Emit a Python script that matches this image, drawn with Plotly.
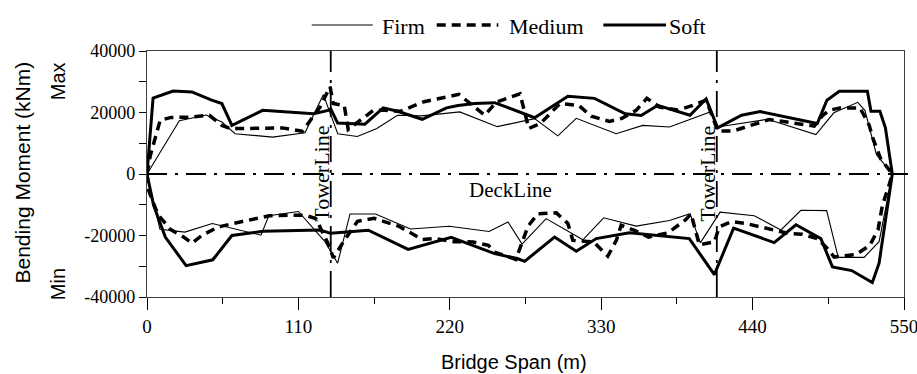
import plotly.graph_objects as go

# Bending moment envelopes along the bridge span (x in m, moment in kNm)
firm_max_x = [0, 23.5, 43, 54.4, 64, 91.3, 114.8, 128.1, 138.6, 152.8, 167, 182, 199.5, 227.2, 254.5,
              281.6, 298.5, 311.9, 340.9, 360.2, 379.6, 409.2, 414.6, 450.9, 486, 499, 516.4, 521.6, 530, 541.5]
firm_max_y = [0, 17300, 19200, 16900, 13100, 12000, 13400, 25800, 13100, 12200, 14800, 19100, 18900, 20200, 15400,
              18000, 12400, 18100, 13100, 15800, 15300, 20200, 15300, 17800, 12850, 19900, 23300, 20700, 6300, 0]
firm_min_x = [0, 9.4, 27.5, 47.4, 82.8, 88.5, 110, 129, 138.5, 147.5, 166, 191.5, 219.5, 248.5, 262.3, 272.5,
              290, 316.7, 331.8, 355.4, 379.6, 394.6, 402, 416.4, 441.2, 460.6, 475.1, 493.8, 502.2, 521, 531.9, 541.5]
firm_min_y = [0, -18000, -18900, -16100, -19900, -13600, -12200, -21800, -29000, -13000, -13000, -17900, -17000,
              -18700, -15600, -22800, -14500, -21400, -14250, -16950, -15100, -12900, -22400, -12400, -13550,
              -18200, -11800, -11900, -27100, -27100, -22000, 0]

medium_max_x = [0, 2.4, 9.6, 17.5, 31.4, 45.3, 54.4, 60.4, 70, 98.5, 113, 125.7, 133, 135.3, 143.3, 146.2, 155,
                164.4, 172.8, 184, 201.3, 226.6, 245.4, 253.8, 271, 277.4, 286, 300, 313.7, 322.8, 336, 345,
                355.4, 363.2, 372.3, 385.6, 396.5, 406.2, 411, 414.6, 426, 438.8, 452, 484.8, 491, 495.6,
                503.5, 518, 524.6, 527.5, 533, 541.5]
medium_max_y = [0, 6000, 17500, 18400, 18500, 19100, 15800, 14800, 14800, 15000, 13900, 21800, 28400, 22900,
                22300, 14500, 17500, 20700, 20700, 20400, 23500, 25900, 19100, 23400, 26100, 14800, 16500,
                22900, 22300, 18800, 17100, 18100, 20700, 24600, 21800, 20800, 22300, 24000, 18500, 14000,
                14000, 15800, 17700, 15600, 19100, 20700, 21500, 21500, 16000, 11500, 5000, 0]
medium_min_x = [0, 1.2, 7.8, 16.9, 26.6, 32.8, 40, 52, 67.7, 88.8, 103.9, 114.8, 122.7, 131.5, 135.4, 142.6,
                152.9, 165, 183, 200, 209, 223, 237, 248, 252.6, 268, 276.8, 284, 297.4, 305.8, 309.4, 324.5,
                334.8, 341, 344.5, 354.2, 364.4, 378.4, 391, 395.3, 401.3, 412.2, 415.8, 424.8, 435.2, 455,
                466.6, 476, 487.2, 494.4, 499.3, 515, 525.2, 531.2, 534.3, 539.1, 541.5]
medium_min_y = [0, -5300, -13100, -18000, -20500, -22500, -19900, -17200, -15600, -13600, -13400, -13400,
                -14500, -22600, -27300, -22100, -15400, -14400, -17000, -21300, -21000, -22000, -22100,
                -23200, -25400, -27800, -17000, -12900, -12650, -16100, -21600, -22100, -26700, -21600,
                -16700, -18300, -20500, -19150, -15000, -13000, -23000, -22100, -17200, -15500, -16100,
                -18300, -19400, -19600, -21000, -24300, -27000, -26200, -23200, -18000, -10200, -3700, 0]

soft_max_x = [0, 4.4, 19, 32.6, 47, 54.4, 61.7, 84, 121, 131.7, 133.5, 138.5, 158.3, 171.6, 182, 200, 217.6,
              226, 238, 252.6, 281.6, 305.8, 325.2, 347.5, 359, 371, 394.5, 406.2, 414.6, 432, 445.5, 487, 494,
              503, 523.4, 526, 532.5, 536.5, 541.5]
soft_max_y = [0, 24700, 27000, 26700, 24000, 22900, 15800, 20700, 19600, 20700, 21200, 16600, 16200, 21500,
              20400, 17800, 21500, 22300, 22900, 23200, 18300, 25300, 24600, 19600, 19000, 22300, 19100,
              24400, 15000, 19100, 20300, 16400, 24000, 26900, 26900, 20400, 20400, 15000, 0]
soft_min_x = [0, 4.8, 13.3, 28.4, 47.8, 61.7, 84.6, 125.7, 133.5, 160.8, 189.7, 221, 252.6, 269, 274.4, 296.1,
              311.9, 326.4, 350.5, 394, 412.2, 426.2, 455.7, 471.5, 489.6, 498, 512, 527, 531.9, 541.5]
soft_min_y = [0, -10200, -20500, -29800, -27900, -20000, -18600, -18200, -19300, -18300, -24500, -20600,
              -25900, -27500, -28400, -20500, -25100, -21000, -19100, -21000, -32700, -17600, -22300, -16500,
              -21000, -30200, -31400, -35300, -29000, 0]

tower_x = [133.5, 414]
x_tick_vals = [0, 110, 220, 330, 440, 550]
x_tick_text = ["0", "110", "220", "330", "440", "550"]
y_tick_vals = [-40000, -20000, 0, 20000, 40000]
y_tick_text = ["-40000", "-20000", "0", "20000", "40000"]
series_names = ["Firm", "Medium", "Soft"]

SERIF = "Liberation Serif"
SANS = "Liberation Sans"

W_FIG, H_FIG = 917, 374
L, R, T, B = 147, 13, 51, 77
PW, PH = W_FIG - L - R, H_FIG - T - B
X_RANGE = [0, 550]
Y_RANGE = [-40000, 40000]


def px(xp):
    return (xp - L) / PW


def py(yp):
    return (T + PH - yp) / PH


styles = {
    "Firm": dict(color="black", width=1.1),
    "Medium": dict(color="black", width=3.5, dash="9px,6px"),
    "Soft": dict(color="black", width=3),
}
data = {
    "Firm": [(firm_max_x, firm_max_y), (firm_min_x, firm_min_y)],
    "Medium": [(medium_max_x, medium_max_y), (medium_min_x, medium_min_y)],
    "Soft": [(soft_max_x, soft_max_y), (soft_min_x, soft_min_y)],
}

fig = go.Figure()
for name in series_names:
    for xs, ys in data[name]:
        fig.add_trace(go.Scatter(x=xs, y=ys, mode="lines", name=name, showlegend=False,
                                 line=styles[name], hoverinfo="skip"))

shapes = []
# deck line along zero moment
shapes.append(dict(type="line", xref="paper", yref="y", x0=0, x1=px(910), y0=0, y1=0,
                   line=dict(color="black", width=1.8, dash="20px,8px,3px,8px")))
# tower lines
for tx in tower_x:
    shapes.append(dict(type="line", xref="x", yref="y", x0=tx, x1=tx, y0=Y_RANGE[0], y1=Y_RANGE[1],
                       line=dict(color="black", width=1.8, dash="26px,8px,3px,8px"), layer="below"))

# legend samples
legend_pos = {"Firm": (311.7, 372.7, 380), "Medium": (436.7, 498.3, 506.5), "Soft": (603.3, 666, 667)}
annotations = []
for name in series_names:
    x0, x1, tx = legend_pos[name]
    shapes.append(dict(type="line", xref="paper", yref="paper", x0=px(x0), x1=px(x1),
                       y0=py(25), y1=py(25), line=styles[name]))
    annotations.append(dict(text=name, xref="paper", yref="paper", x=px(tx), y=py(27),
                            xanchor="left", yanchor="middle", showarrow=False,
                            font=dict(family=SERIF, size=22, color="black")))

annotations += [
    dict(text="DeckLine", xref="x", yref="paper", x=264, y=py(190), xanchor="center", yanchor="middle",
         showarrow=False, font=dict(family=SERIF, size=21, color="black")),
    dict(text="Bending Moment (kNm)", xref="paper", yref="paper", x=px(22), y=py(172.5),
         xanchor="center", yanchor="middle", textangle=-90, showarrow=False,
         font=dict(family=SANS, size=21, color="black")),
    dict(text="Max", xref="paper", yref="y", x=px(57.5), y=30000, xanchor="center", yanchor="middle",
         textangle=-90, showarrow=False, font=dict(family=SANS, size=20, color="black")),
    dict(text="Min", xref="paper", yref="y", x=px(57.5), y=-36000, xanchor="center", yanchor="middle",
         textangle=-90, showarrow=False, font=dict(family=SANS, size=20, color="black")),
    dict(text="Bridge Span (m)", xref="paper", yref="paper", x=px(514), y=py(362),
         xanchor="center", yanchor="middle", showarrow=False,
         font=dict(family=SANS, size=20, color="black")),
]
for tx in tower_x:
    annotations.append(dict(text="TowerLine", xref="x", yref="y", x=tx, y=0, xshift=-10,
                            xanchor="center", yanchor="middle", textangle=-90, showarrow=False,
                            font=dict(family=SERIF, size=22, color="black")))

fig.update_layout(
    template="none",
    width=W_FIG, height=H_FIG,
    margin=dict(l=L, r=R, t=T, b=B, pad=0),
    paper_bgcolor="white", plot_bgcolor="white",
    showlegend=False,
    shapes=shapes, annotations=annotations,
    xaxis=dict(range=X_RANGE, tickvals=x_tick_vals, ticktext=x_tick_text, ticks="outside",
               ticklen=12, tickwidth=1.2, tickcolor="black", showline=True, linecolor="#404040",
               linewidth=1.3, mirror=True, showgrid=False, zeroline=False, automargin=False,
               ticklabeloverflow="allow",
               tickfont=dict(family=SERIF, size=19, color="black"),
               minor=dict(dtick=55, tick0=0, ticks="outside", ticklen=6, tickcolor="black",
                          tickwidth=1.2, showgrid=False)),
    yaxis=dict(range=Y_RANGE, tickvals=y_tick_vals, ticktext=y_tick_text, ticks="outside",
               ticklen=7, tickwidth=1.2, tickcolor="black", showline=True, linecolor="#404040",
               linewidth=1.3, mirror=True, showgrid=False, zeroline=False, automargin=False,
               tickfont=dict(family=SERIF, size=18, color="black"),
               minor=dict(dtick=10000, tick0=0, ticks="outside", ticklen=7, tickcolor="black",
                          tickwidth=1.2, showgrid=False)),
)

fig.write_html("out.html")
